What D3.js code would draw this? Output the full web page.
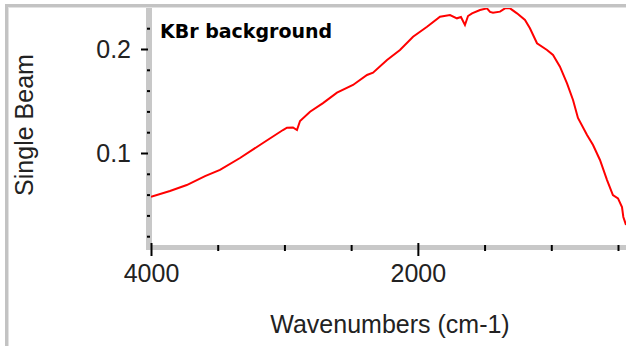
<!DOCTYPE html>
<html>
<head>
<meta charset="utf-8">
<script src="https://cdn.jsdelivr.net/npm/d3@7"></script>
<style>
body { margin: 0; background: #fff; }
</style>
</head>
<body>
<script>
// spectrum (cm-1, single beam)
var wavenumbers = [4000, 3858, 3732, 3595, 3483, 3333, 3161, 3011, 2981, 2936, 2906, 2883, 2808, 2711, 2606, 2486, 2381, 2336, 2231, 2134, 2036, 1931, 1834, 1759, 1707, 1677, 1647, 1624, 1594, 1534, 1482, 1459, 1437, 1384, 1347, 1309, 1257, 1197, 1160, 1107, 1032, 987, 935, 882, 837, 800, 732, 687, 635, 582, 538, 500, 470, 460, 440];
var singleBeam = [0.058, 0.0635, 0.0692, 0.0778, 0.0837, 0.0952, 0.1096, 0.1221, 0.1243, 0.1245, 0.1221, 0.1308, 0.1397, 0.148, 0.158, 0.1654, 0.175, 0.1772, 0.1894, 0.199, 0.2118, 0.2214, 0.2311, 0.2327, 0.2295, 0.2308, 0.2231, 0.2317, 0.2343, 0.2375, 0.2391, 0.2356, 0.2349, 0.2359, 0.2391, 0.2391, 0.2343, 0.2279, 0.2199, 0.2055, 0.199, 0.1942, 0.183, 0.167, 0.151, 0.1337, 0.1173, 0.1077, 0.0933, 0.074, 0.0596, 0.0564, 0.048, 0.0385, 0.0308];

var yMajorTicks = [0.1, 0.2];
var yMinorTicks = [0.02, 0.04, 0.06, 0.08, 0.12, 0.14, 0.16, 0.18, 0.22];
var xMajorTicks = [4000, 2000];
var xMinorTicks = [3500, 3000, 2500, 1500, 1000, 500];

var W = 626, H = 346;
var svg = d3.select("body").append("svg").attr("width", W).attr("height", H);

var x = d3.scaleLinear().domain([4000, 440]).range([151, 626]);
var y = d3.scaleLinear().domain([0, 0.24]).range([257, 7.4]);

// outer frame (only top and left show)
svg.append("rect").attr("x", 5).attr("y", 4).attr("width", W).attr("height", 3).attr("fill", "#c3c3c3");
svg.append("rect").attr("x", 5).attr("y", 4).attr("width", 3).attr("height", H).attr("fill", "#c3c3c3");
svg.append("rect").attr("x", 8).attr("y", 7).attr("width", W).attr("height", 1).attr("fill", "#e2e2e2");
svg.append("rect").attr("x", 8).attr("y", 7).attr("width", 1).attr("height", H).attr("fill", "#e2e2e2");

// axis bars
svg.append("rect").attr("x", 146).attr("y", 8).attr("width", 6).attr("height", 242).attr("fill", "#c8c8c8");
svg.append("rect").attr("x", 150).attr("y", 245).attr("width", W - 150).attr("height", 5).attr("fill", "#c8c8c8");

// curve
svg.append("clipPath").attr("id", "clip").append("rect")
  .attr("x", 151).attr("y", 8).attr("width", W - 151).attr("height", 237);

var line = d3.line()
  .x(function(d, i) { return x(wavenumbers[i]); })
  .y(function(d) { return y(d); });

svg.append("path").datum(singleBeam)
  .attr("clip-path", "url(#clip)")
  .attr("d", line)
  .attr("fill", "none")
  .attr("stroke", "#ff0000")
  .attr("stroke-width", 2);

// y axis ticks
var yMinor = svg.append("g").attr("transform", "translate(150,0)")
  .call(d3.axisLeft(y).tickValues(yMinorTicks).tickSize(3).tickFormat(""));
var yMajor = svg.append("g").attr("transform", "translate(148,0)")
  .call(d3.axisLeft(y).tickValues(yMajorTicks).tickSize(7).tickPadding(10).tickFormat(d3.format(".1f")));

// x axis ticks
var xMinor = svg.append("g").attr("transform", "translate(0,245)")
  .call(d3.axisBottom(x).tickValues(xMinorTicks).tickSize(6).tickFormat(""));
var xMajor = svg.append("g").attr("transform", "translate(0,243)")
  .call(d3.axisBottom(x).tickValues(xMajorTicks).tickSize(13).tickPadding(8).tickFormat(d3.format("d")));

[yMinor, yMajor, xMinor, xMajor].forEach(function(g) {
  g.select(".domain").remove();
  g.selectAll(".tick line").attr("stroke", "#000").attr("stroke-width", 2);
  g.selectAll(".tick text").attr("fill", "#222").attr("font-size", 25)
    .attr("font-family", "Liberation Sans, Arial, sans-serif");
});

// titles
svg.append("text")
  .attr("transform", "translate(33,125) rotate(-90)")
  .attr("text-anchor", "middle")
  .attr("font-size", 25)
  .attr("font-family", "Liberation Sans, Arial, sans-serif")
  .attr("fill", "#222")
  .text("Single Beam");

svg.append("text")
  .attr("x", 390).attr("y", 333)
  .attr("text-anchor", "middle")
  .attr("font-size", 25)
  .attr("font-family", "Liberation Sans, Arial, sans-serif")
  .attr("fill", "#222")
  .text("Wavenumbers (cm-1)");

svg.append("text")
  .attr("x", 160).attr("y", 38)
  .attr("font-size", 19)
  .attr("font-weight", "bold")
  .attr("font-family", "DejaVu Sans, Verdana, sans-serif")
  .attr("fill", "#000")
  .text("KBr background");
</script>
</body>
</html>
